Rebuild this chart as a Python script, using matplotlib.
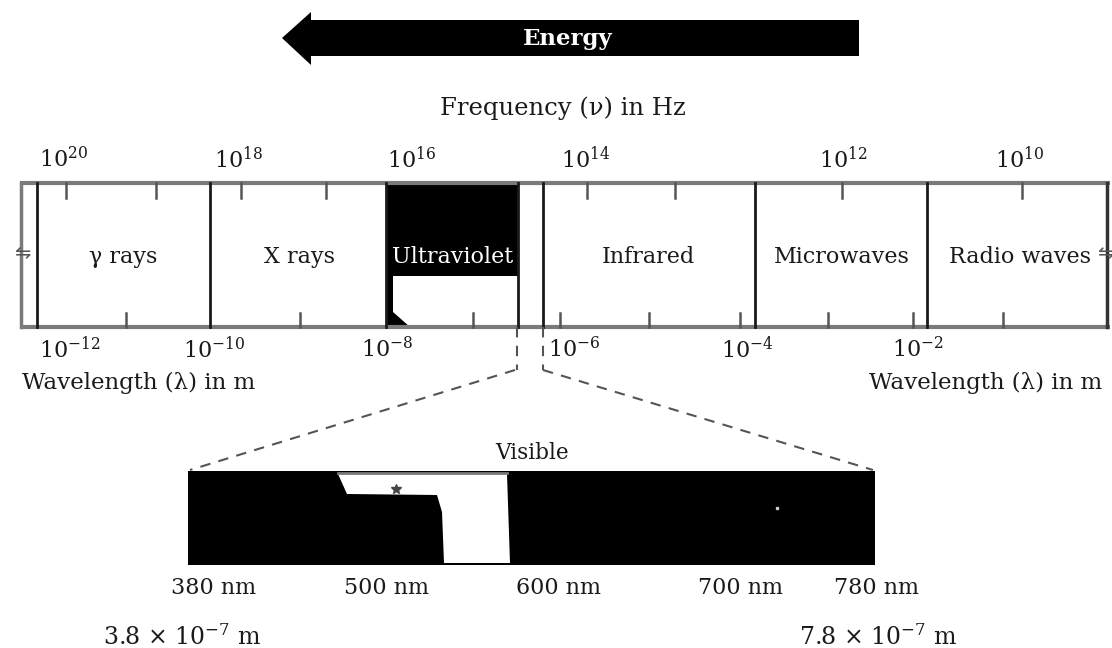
import matplotlib.pyplot as plt
from matplotlib.patches import Polygon, Rectangle

plt.rcParams['font.family'] = ['DejaVu Serif', 'DejaVu Sans']
plt.rcParams['mathtext.fontset'] = 'dejavuserif'

# labels of the diagram
freq_labels = [r"$10^{20}$", r"$10^{18}$", r"$10^{16}$", r"$10^{14}$", r"$10^{12}$", r"$10^{10}$"]
wave_labels = [r"$10^{-12}$", r"$10^{-10}$", r"$10^{-8}$", r"$10^{-6}$", r"$10^{-4}$", r"$10^{-2}$"]
bands = ["γ rays", "X rays", "Ultraviolet", "Infrared", "Microwaves", "Radio waves"]
visible_nm = ["380 nm", "500 nm", "600 nm", "700 nm", "780 nm"]
visible_m = [r"3.8 × $10^{-7}$ m", r"7.8 × $10^{-7}$ m"]

# layout (pixel like coords, y goes down)
freq_x = [64, 239, 412, 586, 843, 1020]
wave_x = [70, 214, 387, 574, 747, 918]
band_x = [123, 299, 453, 648, 842, 1020]
edges_x = [37, 210, 386, 518, 543, 755, 927]
top_ticks = [66, 156, 241, 326, 587, 675, 842, 1022]
bot_ticks = [126, 300, 473, 560, 649, 740, 828, 913, 1003]
nm_x = [214, 387, 558, 741, 876]
m_x = [182, 878]
top, bot = 183, 327
gray = '#7a7a7a'
ink = '#1a1a1a'

fig = plt.figure(figsize=(11.12, 6.48), dpi=100)
ax = fig.add_axes([0, 0, 1, 1])
ax.set_xlim(0, 1112)
ax.set_ylim(648, 0)
ax.axis('off')

# energy arrow
ax.add_patch(Polygon([(282, 38), (311, 12), (311, 20), (859, 20), (859, 56),
                      (311, 56), (311, 65)], closed=True, color='black', lw=0))
ax.text(568, 39, "Energy", color='white', fontsize=16.5, fontweight='bold',
        ha='center', va='center')
ax.text(563, 108, "Frequency (ν) in Hz", color=ink, fontsize=17.5,
        ha='center', va='center')

# main strip
ax.add_patch(Rectangle((386, top), 132, 93, color='black', lw=0))
ax.add_patch(Polygon([(386, 276), (393, 276), (393, 312), (410, 327), (386, 327)],
                     closed=True, color='black', lw=0))
ax.plot([20, 1110], [top, top], color=gray, lw=3, solid_capstyle='butt')
ax.plot([20, 1110], [bot, bot], color=gray, lw=3, solid_capstyle='butt')
ax.plot([21, 21], [top, bot], color=gray, lw=2.5)
ax.plot([1107, 1107], [top, bot], color='#333333', lw=2.5)
for x in edges_x:
    ax.plot([x, x], [top, bot], color=ink, lw=2)
for x in top_ticks:
    ax.plot([x, x], [top, top + 15], color='#555555', lw=1.8)
for x in bot_ticks:
    ax.plot([x, x], [bot, bot - 14], color='#555555', lw=1.8)
ax.text(22, 254, "⇋", color='#555555', fontsize=14, ha='center', va='center',
        family='DejaVu Sans')
ax.text(1105, 254, "⇋", color='#555555', fontsize=14, ha='center', va='center',
        family='DejaVu Sans')

for lab, x in zip(freq_labels, freq_x):
    ax.text(x, 160, lab, color=ink, fontsize=16, ha='center', va='center')
for lab, x in zip(wave_labels, wave_x):
    ax.text(x, 350, lab, color=ink, fontsize=16, ha='center', va='center')
for lab, x in zip(bands, band_x):
    c = 'white' if lab == "Ultraviolet" else ink
    ax.text(x, 257, lab, color=c, fontsize=16, ha='center', va='center')

ax.text(22, 383, "Wavelength (λ) in m", color=ink, fontsize=16.5, ha='left', va='center')
ax.text(1102, 383, "Wavelength (λ) in m", color=ink, fontsize=16.5, ha='right', va='center')

# zoom-in lines to the visible band
dash = dict(color='#555555', lw=1.5, ls=(0, (5, 4)))
ax.plot([517, 517], [bot, 370], **dash)
ax.plot([543, 543], [bot, 370], **dash)
ax.plot([515, 190], [370, 470], **dash)
ax.plot([543, 873], [370, 470], **dash)
ax.text(532, 453, "Visible", color=ink, fontsize=15.5, ha='center', va='center')

# visible band
ax.add_patch(Rectangle((188, 471), 687, 94, color='black', lw=0))
ax.add_patch(Polygon([(338, 474), (347, 494), (437, 495), (442, 512), (444, 563),
                      (510, 563), (507, 474)], closed=True, color='white', lw=0))
ax.plot([338, 507], [473, 473], color=gray, lw=2)
ax.plot([396], [489], marker='*', color='#444444', ms=7)
ax.plot([777], [508], marker='s', color='#cccccc', ms=2)

for lab, x in zip(visible_nm, nm_x):
    ax.text(x, 588, lab, color=ink, fontsize=16, ha='center', va='center')
for lab, x in zip(visible_m, m_x):
    ax.text(x, 637, lab, color=ink, fontsize=17, ha='center', va='center')

fig.savefig("out.png", dpi=100)
